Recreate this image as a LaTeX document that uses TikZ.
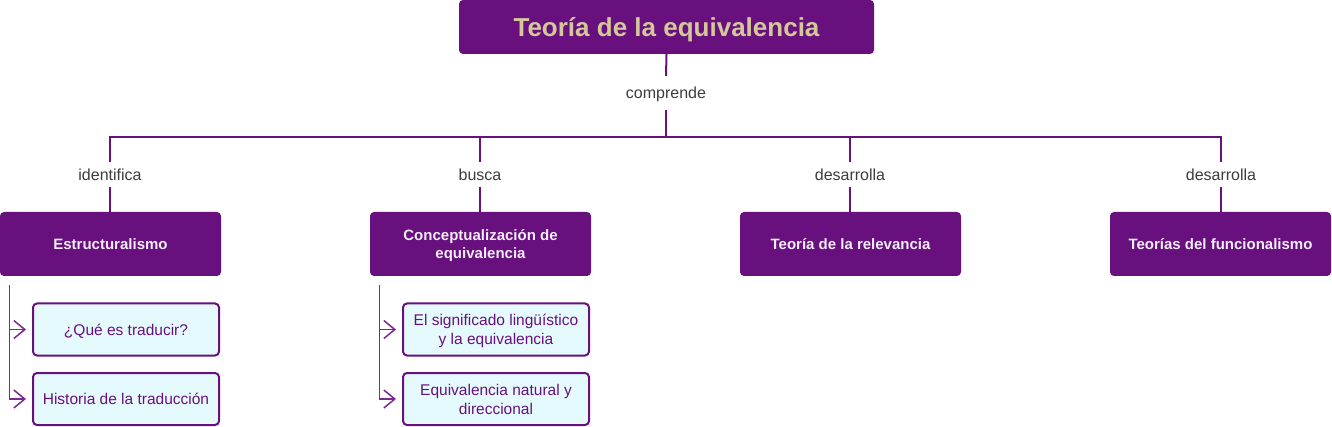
\documentclass[tikz,border=0pt]{standalone}
\usepackage{fontspec}
\setmainfont{Liberation Sans}
\usetikzlibrary{arrows.meta}
\definecolor{pur}{HTML}{68117E}
\definecolor{subpur}{HTML}{7A2A8E}
\definecolor{titletxt}{HTML}{D4C79A}
\definecolor{boxtxt}{HTML}{F2ECF6}
\definecolor{leaf}{HTML}{E5FAFD}
\definecolor{lbl}{HTML}{3C3C3C}
\begin{document}
\begin{tikzpicture}[x=1pt,y=-1pt,
 titlebox/.style={fill=pur,rounded corners=4pt,minimum width=415pt,minimum height=54pt,inner sep=0pt,text depth=0pt,text=titletxt,font=\fontsize{26}{30}\selectfont\bfseries},
 levelbox/.style={fill=pur,rounded corners=4pt,minimum width=221pt,minimum height=64pt,inner sep=0pt,text depth=0pt,text=boxtxt,align=center,font=\fontsize{15}{18}\selectfont\bfseries},
 leafbox/.style={draw=pur,line width=2pt,fill=leaf,rounded corners=4pt,minimum width=186pt,minimum height=52pt,inner sep=0pt,text depth=0pt,text=pur,align=center,font=\fontsize{15.5}{19}\selectfont},
 conn/.style={draw=pur,line width=2pt},
 sub/.style={draw=subpur,line width=1.5pt},
 lbltext/.style={text=lbl,inner sep=0pt,text depth=0pt,font=\fontsize{16}{19}\selectfont},
 arr/.style={sub,-{Straight Barb[length=11pt,width=18pt,line width=1.5pt]},shorten >=6pt}
]
\useasboundingbox (0,0) rectangle (1332,427);

% title
\node[titlebox] (title) at (666.5,27) {Teoría de la equivalencia};
\node[lbltext,minimum height=34pt] (l0) at (666,93) {comprende};
\coordinate (hub) at (666,137);
\coordinate (b1) at (110,137);
\coordinate (b2) at (480,137);
\coordinate (b3) at (850,137);
\coordinate (b4) at (1221,137);
\draw[conn] (title.south) -- (l0.north);
\draw[conn] (l0.south) -- (hub);
\draw[conn] ([xshift=-1pt]b1) -- ([xshift=1pt]b4);

% level 1
\node[levelbox] (n1) at (110.5,244) {Estructuralismo};
\node[levelbox] (n2) at (480.5,244) {Conceptualización de\\equivalencia};
\node[levelbox] (n3) at (850.5,244) {Teoría de la relevancia};
\node[levelbox] (n4) at (1220.5,244) {Teorías del funcionalismo};

\node[lbltext,minimum height=24pt] (l1) at (110,174.5) {identifica};
\node[lbltext,minimum height=24pt] (l2) at (480,174.5) {busca};
\node[lbltext,minimum height=24pt] (l3) at (850,174.5) {desarrolla};
\node[lbltext,minimum height=24pt] (l4) at (1221,174.5) {desarrolla};

\foreach \i in {1,2,3,4}{
  \draw[conn] (b\i) -- (l\i.north);
  \draw[conn] (l\i.south) -- (n\i.north -| l\i);
}

% leaves
\node[leafbox] (c1) at (126,329.5) {¿Qué es traducir?};
\node[leafbox] (c2) at (126,399) {Historia de la traducción};
\node[leafbox] (c3) at (496,329.5) {El significado lingüístico\\y la equivalencia};
\node[leafbox] (c4) at (496,399) {Equivalencia natural y\\direccional};

\coordinate (s1) at (9.5,285);
\coordinate (j1) at (9.5,329.5);
\coordinate (s2) at (379.5,285);
\coordinate (j2) at (379.5,329.5);
\draw[arr] (j1) -- (c1.west);
\draw[arr] (s1) |- (c2.west);
\draw[arr] (j2) -- (c3.west);
\draw[arr] (s2) |- (c4.west);
\end{tikzpicture}
\end{document}
